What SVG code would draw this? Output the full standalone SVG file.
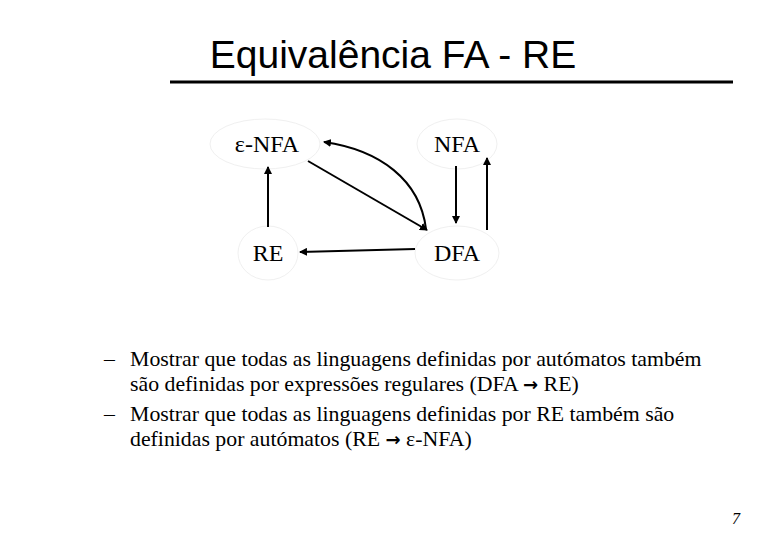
<svg xmlns="http://www.w3.org/2000/svg" width="780" height="540" viewBox="0 0 780 540">
<style>
.n{fill:none;stroke:#f0f0f0;stroke-width:1}
.t{font-family:"Liberation Serif",serif;font-size:24px;fill:#000}
.c{stroke:#000;stroke-width:2;fill:none;marker-end:url(#a)}
.b{font-family:"Liberation Serif",serif;font-size:21.8px;fill:#000}
.ar{font-family:"DejaVu Sans",sans-serif;font-weight:bold;font-size:18px}
</style>
<defs><marker id="a" markerWidth="8" markerHeight="8" refX="7" refY="4" orient="auto" markerUnits="userSpaceOnUse"><path d="M0,0L8,4L0,8z"/></marker></defs>
<rect width="780" height="540" fill="#fff"/>
<text x="393" y="68" text-anchor="middle" font-family="Liberation Sans,sans-serif" font-size="39">Equivalência FA - RE</text>
<line x1="170" y1="82" x2="733" y2="82" stroke="#000" stroke-width="3"/>
<g id="enfa"><ellipse class="n" cx="265" cy="144" rx="55" ry="25"/><text class="t" x="267" y="152" text-anchor="middle">ε-NFA</text></g>
<g id="nfa"><ellipse class="n" cx="457" cy="144" rx="40" ry="25"/><text class="t" x="457" y="152" text-anchor="middle">NFA</text></g>
<g id="re"><ellipse class="n" cx="268" cy="253" rx="30" ry="27"/><text class="t" x="268" y="261" text-anchor="middle">RE</text></g>
<g id="dfa"><ellipse class="n" cx="457" cy="253" rx="42" ry="27"/><text class="t" x="457" y="261" text-anchor="middle">DFA</text></g>
<g id="edges">
<path class="c" d="M308,161L427,230"/>
<path class="c" d="M426,229C420,180 380,150 324,142"/>
<path class="c" d="M268,227L268,167"/>
<path class="c" d="M415,249L300,252"/>
<path class="c" d="M456,166L456,223"/>
<path class="c" d="M487,230L487,158"/>
</g>
<g class="b">
<text x="104" y="366">–</text>
<text x="130" y="366">Mostrar que todas as linguagens definidas por autómatos também</text>
<text x="130" y="391">são definidas por expressões regulares (DFA <tspan class="ar">→</tspan> RE)</text>
<text x="104" y="421">–</text>
<text x="130" y="421">Mostrar que todas as linguagens definidas por RE também são</text>
<text x="130" y="446">definidas por autómatos (RE <tspan class="ar">→</tspan> ε-NFA)</text>
</g>
<text x="740" y="524" font-family="Liberation Serif,serif" font-style="italic" font-size="16" text-anchor="end">7</text>
</svg>
